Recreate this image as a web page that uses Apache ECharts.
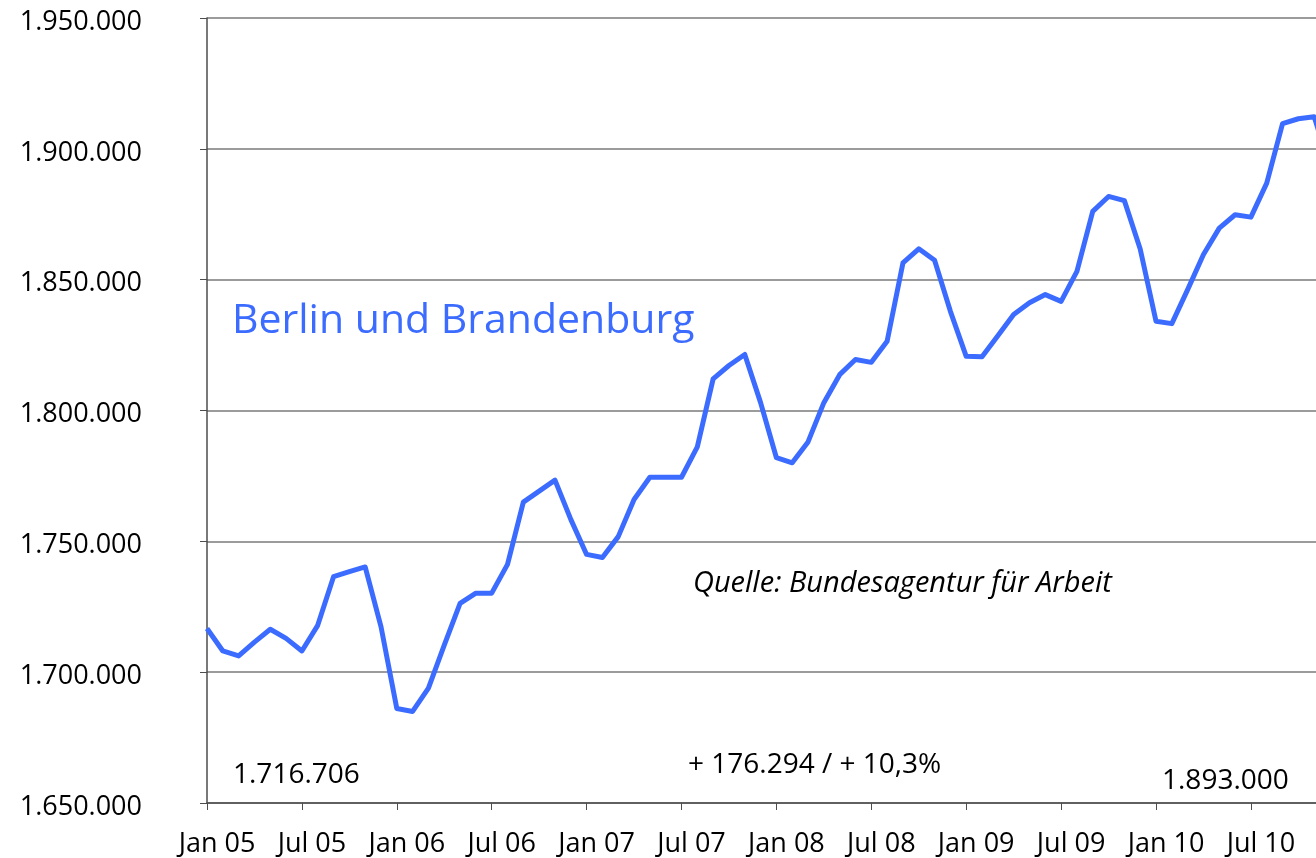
<!DOCTYPE html>
<html>
<head>
<meta charset="utf-8">
<script src="https://cdn.jsdelivr.net/npm/echarts@6/dist/echarts.min.js"></script>
<style>
  html, body { margin: 0; padding: 0; background: #fff; overflow: hidden; width: 1316px; height: 858px; }
  /* Diagramm läuft rechts über den Bildrand hinaus (bis Dez 10) */
  #chart { width: 1330px; height: 858px; }
</style>
</head>
<body>
<div id="chart"></div>
<script>
// Monate / Jahre für die Kategorien
const monthNames = ['Jan', 'Feb', 'Mrz', 'Apr', 'Mai', 'Jun', 'Jul', 'Aug', 'Sep', 'Okt', 'Nov', 'Dez'];
const years = ['05', '06', '07', '08', '09', '10'];
// Beschäftigte Berlin und Brandenburg, monatlich Jan 05 - Dez 10
const employees = [
  1716706, 1708100, 1706200, 1711500, 1716400, 1712900, 1708100, 1717900, 1736500, 1738400, 1740200, 1717400,
  1686100, 1685000, 1693900, 1710300, 1726300, 1730200, 1730200, 1741200, 1765000, 1769200, 1773400, 1758400,
  1745000, 1743800, 1751800, 1766000, 1774500, 1774500, 1774500, 1786100, 1812100, 1817200, 1821400, 1803000,
  1781950, 1780000, 1788000, 1803000, 1813700, 1819500, 1818400, 1826500, 1856400, 1861800, 1857400, 1837900,
  1820700, 1820500, 1828600, 1836700, 1841200, 1844300, 1841700, 1853200, 1876100, 1881800, 1880200, 1861700,
  1834100, 1833200, 1846200, 1859600, 1869700, 1874800, 1873900, 1886900, 1909600, 1911500, 1912300, 1893000
];
const yTicks = [1650000, 1950000, 50000]; // min, max, Schritt
const startLabel = '1.716.706';
const endLabel = '1.893.000';
const changeLabel = '+ 176.294 / + 10,3%';
const titleText = 'Berlin und Brandenburg';
const sourceText = 'Quelle: Bundesagentur für Arbeit';

const categories = [];
years.forEach(y => monthNames.forEach(m => categories.push(m + ' ' + y)));

// Tausenderpunkte
const fmt = v => String(v).replace(/\B(?=(\d{3})+(?!\d))/g, '.');

const FONT = '"Open Sans", "Noto Sans", sans-serif';
const BLUE = '#3c6cff';

const chart = echarts.init(document.getElementById('chart'));
const option = {
  animation: false,
  backgroundColor: '#ffffff',
  grid: {
    left: 207,
    top: 18,
    bottom: 54,
    right: 0
  },
  xAxis: {
    type: 'category',
    data: categories,
    boundaryGap: false,
    axisLine: { lineStyle: { color: '#4d4d4d', width: 1.5 } },
    axisTick: { show: true, interval: 5, length: 7, lineStyle: { color: '#4d4d4d' } },
    axisLabel: {
      interval: 5,
      margin: 28,
      color: '#000',
      fontFamily: FONT,
      fontSize: 27,
      padding: [0, 0, 0, 20]
    },
    splitLine: { show: false }
  },
  yAxis: {
    type: 'value',
    min: yTicks[0],
    max: yTicks[1],
    interval: yTicks[2],
    axisLine: { show: true, lineStyle: { color: '#4d4d4d', width: 1.5 } },
    axisTick: { show: true, length: 7, lineStyle: { color: '#4d4d4d' } },
    axisLabel: {
      margin: 65,
      formatter: v => '{a|' + fmt(v) + '}',
      rich: {
        a: { color: '#000', fontFamily: FONT, fontSize: 27, padding: [8, 0, 0, 0] }
      }
    },
    splitLine: { lineStyle: { color: '#7a7a7a', width: 1.5 } }
  },
  series: [{
    type: 'line',
    data: employees,
    showSymbol: false,
    symbol: 'none',
    lineStyle: { color: BLUE, width: 5, join: 'round' }
  }],
  graphic: [
    { type: 'text', style: { x: 232, y: 321, text: titleText, font: '41px ' + FONT, fill: BLUE, textVerticalAlign: 'middle' } },
    { type: 'text', style: { x: 693, y: 584, text: sourceText, font: 'italic 29px ' + FONT, fill: '#000', textVerticalAlign: 'middle' } },
    { type: 'text', style: { x: 688, y: 765, text: changeLabel, font: '28px ' + FONT, fill: '#000', textVerticalAlign: 'middle' } },
    { type: 'text', style: { x: 233, y: 775, text: startLabel, font: '28px ' + FONT, fill: '#000', textVerticalAlign: 'middle' } },
    { type: 'text', style: { x: 1162, y: 781, text: endLabel, font: '28px ' + FONT, fill: '#000', textVerticalAlign: 'middle' } }
  ]
};
chart.setOption(option);
</script>
</body>
</html>
